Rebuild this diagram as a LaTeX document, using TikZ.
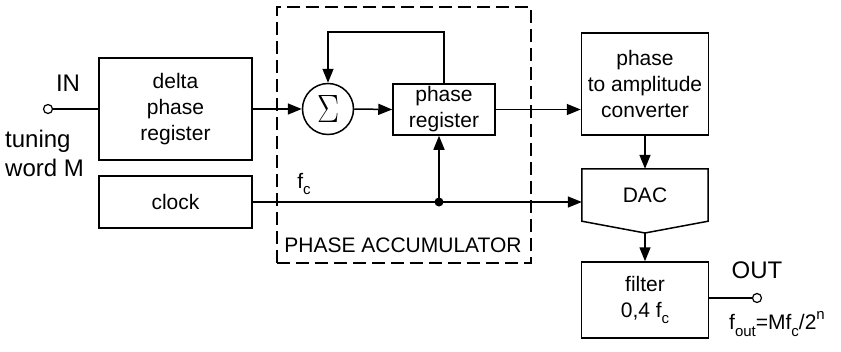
\documentclass[tikz,border=0pt]{standalone}
\usepackage{fontspec}
\setmainfont{Liberation Sans}
\usetikzlibrary{arrows.meta}
\newcommand{\lowsub}[1]{\raisebox{-0.32em}{\fontsize{15}{15}\selectfont #1}}
\newcommand{\highsup}[1]{\raisebox{0.5em}{\fontsize{15}{15}\selectfont #1}}
\begin{document}
\begin{tikzpicture}[x=1pt,y=-1pt,
  every node/.style={font=\fontsize{21}{26}\selectfont, inner sep=0pt},
  blk/.style={draw, line width=1.5pt, align=center},
  ln/.style={line width=1.5pt},
  arr/.style={line width=1.5pt, -{Triangle[length=14pt,width=11pt]}},
  term/.style={draw, circle, line width=1.2pt, minimum size=9pt, fill=white},
  big/.style={font=\fontsize{24}{29}\selectfont}
]
\useasboundingbox (0,0) rectangle (841,351);
% dashed accumulator frame
\node[draw, dash pattern=on 13pt off 6pt, line width=2pt, minimum width=254pt, minimum height=256pt] (acc) at (404,135) {};
\node (acclabel) at (403,245) {PHASE ACCUMULATOR};
% blocks
\node[blk, minimum width=153pt, minimum height=102pt] (delta) at (175.5,109) {delta\\phase\\register};
\node[blk, minimum width=153pt, minimum height=52pt] (clock) at (175.5,202) {clock};
\node[draw, circle, line width=1.5pt, minimum size=51pt, fill=white] (sig) at (328,109) {\resizebox{22pt}{27pt}{$\Sigma$}};
\node[blk, minimum width=102pt, minimum height=51pt] (preg) at (444,109.5) {phase\\register};
\node[blk, minimum width=127pt, minimum height=102pt] (conv) at (645,84) {phase\\to amplitude\\converter};
\node[minimum width=126pt, minimum height=52pt] (dac) at (645,195) {DAC};
\draw[ln, line join=miter] (dac.north west) -- (dac.north east) -- (dac.south east) -- (645,233) coordinate (dacpt) -- (dac.south west) -- cycle;
\node[blk, minimum width=127pt, minimum height=76pt] (filter) at (645,300) {filter\\0,4 f\lowsub{c}};
% terminals
\node[term] (inc) at (48,109) {};
\node[term] (outc) at (757,298) {};
% labels
\node[big] (inlab) at (68,83) {IN};
\node[big, align=left, anchor=west] (tw) at (5,153) {tuning\\word M};
\node (fc) at (304,184) {f\lowsub{c}};
\node[big] (outlab) at (757,270) {OUT};
\node (fout) at (777,324) {f\lowsub{out}=Mf\lowsub{c}/2\highsup{n}};
% connectors
\draw[ln] (inc.east) -- (delta.west);
\draw[arr] (delta.east) -- (sig.west);
\draw[arr] (sig.east) -- (preg.west);
\coordinate (fbtop) at (444,32);
\draw[arr] (preg.north) -- (fbtop) -| (sig.north);
\draw[arr] (preg.east) -- (conv.west |- preg.east);
\draw[arr] (conv.south) -- (dac.north);
\draw[arr] (clock.east) -- (clock.east -| dac.west);
\coordinate (dot) at (439,202);
\fill (dot) circle (4.5pt);
\draw[arr] (dot) -- (dot |- preg.south);
\draw[arr] (dacpt) -- (filter.north);
\draw[ln] (filter.east |- outc.west) -- (outc.west);
\end{tikzpicture}
\end{document}
